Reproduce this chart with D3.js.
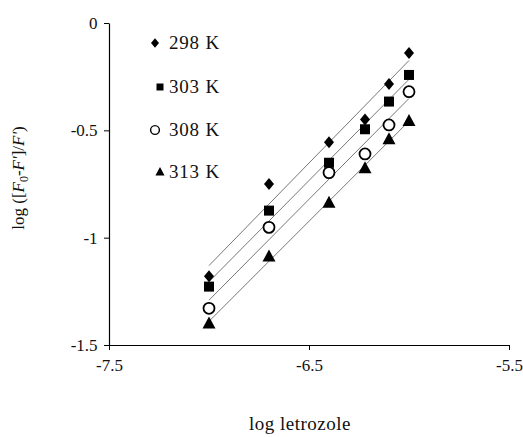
<!DOCTYPE html>
<html>
<head>
<meta charset="utf-8">
<script src="https://cdn.jsdelivr.net/npm/d3@7"></script>
<style>
  body { margin: 0; background: #fff; }
  svg text { font-family: "Liberation Serif", "Times New Roman", serif; fill: #111; }
</style>
</head>
<body>
<svg id="chart" width="523" height="437"></svg>
<script>
// log[letrozole]
var logConc = [-7, -6.7, -6.4, -6.22, -6.1, -6.0];
var temps = ["298 K", "303 K", "308 K", "313 K"];
var y298 = [-1.18, -0.75, -0.556, -0.45, -0.284, -0.14];
var y303 = [-1.228, -0.874, -0.651, -0.495, -0.366, -0.242];
var y308 = [-1.329, -0.952, -0.697, -0.61, -0.475, -0.32];
var y313 = [-1.40, -1.088, -0.837, -0.677, -0.542, -0.456];
var xTicks = [-7.5, -6.5, -5.5];
var yTicks = [0, -0.5, -1, -1.5];

var series = [y298, y303, y308, y313];

var svg = d3.select("#chart");

var x = d3.scaleLinear().domain([-7.5, -5.5]).range([109, 509]);
var y = d3.scaleLinear().domain([-1.5, 0]).range([345, 23]);

// axes
var xAxis = svg.append("g")
    .attr("transform", "translate(0," + y(-1.5) + ")")
    .call(d3.axisBottom(x).tickValues(xTicks).tickSize(5).tickSizeOuter(0)
      .tickFormat(function (d) { return d.toFixed(1); }));
var yAxis = svg.append("g")
    .attr("transform", "translate(" + x(-7.5) + ",0)")
    .call(d3.axisLeft(y).tickValues(yTicks).tickSize(5).tickSizeOuter(0)
      .tickFormat(function (d) { return String(d); }));

svg.selectAll(".domain").attr("stroke", "#000").attr("stroke-width", 1.2);
svg.selectAll(".tick line").attr("stroke", "#000");
xAxis.selectAll("text").attr("font-size", 17).attr("dy", "1.05em").attr("fill", "#111");
yAxis.selectAll("text").attr("font-size", 17).attr("dx", "-0.2em").attr("fill", "#111");

// trend lines (least squares from each series)
function fit(ys) {
  var mx = d3.mean(logConc), my = d3.mean(ys);
  var sxy = d3.sum(logConc, function (v, i) { return (v - mx) * (ys[i] - my); });
  var sxx = d3.sum(logConc, function (v) { return (v - mx) * (v - mx); });
  var b = sxy / sxx;
  return function (v) { return my + b * (v - mx); };
}
var x0 = d3.min(logConc), x1 = d3.max(logConc);
series.forEach(function (ys) {
  var f = fit(ys);
  svg.append("line")
    .attr("x1", x(x0)).attr("y1", y(f(x0)))
    .attr("x2", x(x1)).attr("y2", y(f(x1)))
    .attr("stroke", "#777").attr("stroke-width", 1);
});

// markers
function marker(g, k) {
  if (k === 0) {
    g.append("path").attr("d", "M0,-6L5,0L0,6L-5,0Z").attr("fill", "#000");
  } else if (k === 1) {
    g.append("rect").attr("x", -5).attr("y", -5).attr("width", 10).attr("height", 10).attr("fill", "#000");
  } else if (k === 2) {
    g.append("circle").attr("r", 5.5).attr("fill", "#fff").attr("stroke", "#000").attr("stroke-width", 1.8);
  } else {
    g.append("path").attr("d", "M0,-7L6.5,5L-6.5,5Z").attr("fill", "#000");
  }
}

series.forEach(function (ys, k) {
  svg.append("g").selectAll("g")
    .data(ys)
    .enter().append("g")
      .attr("transform", function (d, i) { return "translate(" + x(logConc[i]) + "," + y(d) + ")"; })
      .each(function () { marker(d3.select(this), k); });
});

// legend
var legendY = [43, 87, 130, 172];
var legendX = [155, 160, 155, 160];
temps.forEach(function (t, k) {
  var g = svg.append("g").attr("transform", "translate(" + legendX[k] + "," + legendY[k] + ")");
  var s = k === 0 || k === 2 ? 0.8 : 0.7;
  marker(g.append("g").attr("transform", "scale(" + s + ")"), k);
  svg.append("text")
    .attr("x", 169).attr("y", legendY[k] + 6)
    .attr("font-size", 19).attr("letter-spacing", 0.8)
    .text(t);
});

// axis titles
svg.append("text")
  .attr("x", 300).attr("y", 430)
  .attr("text-anchor", "middle").attr("font-size", 19).attr("letter-spacing", 0.5)
  .text("log letrozole");

var yl = svg.append("text")
  .attr("transform", "translate(24,178) rotate(-90)")
  .attr("text-anchor", "middle").attr("font-size", 17);
yl.append("tspan").text("log ([");
yl.append("tspan").attr("font-style", "italic").text("F");
yl.append("tspan").attr("font-size", 12).attr("dy", 4).text("0");
yl.append("tspan").attr("dy", -4).text("-");
yl.append("tspan").attr("font-style", "italic").text("F'");
yl.append("tspan").text("]/");
yl.append("tspan").attr("font-style", "italic").text("F'");
yl.append("tspan").text(")");
</script>
</body>
</html>
